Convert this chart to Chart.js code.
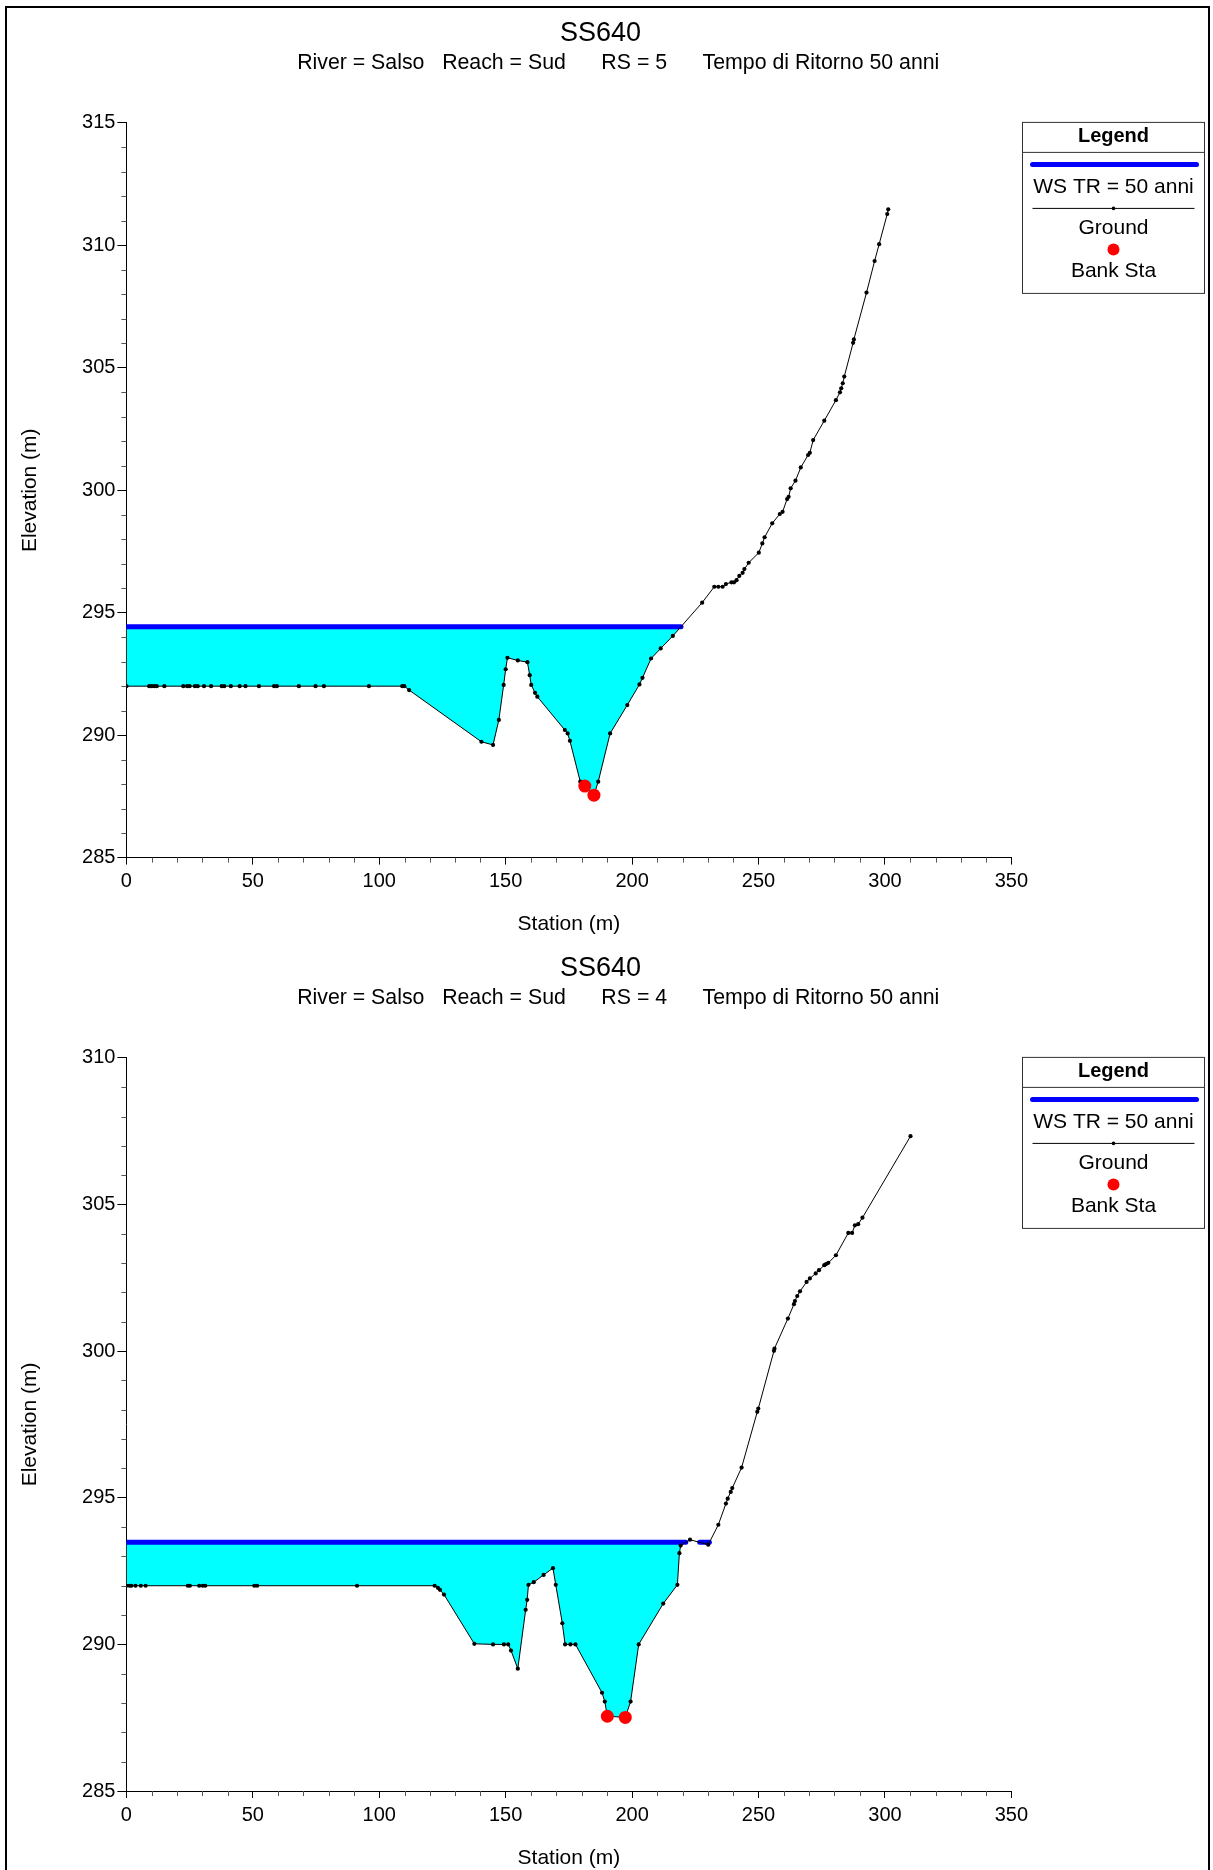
<!DOCTYPE html>
<html>
<head>
<meta charset="utf-8">
<script src="https://cdn.jsdelivr.net/npm/chart.js@4.4.1/dist/chart.umd.min.js"></script>
<style>
html,body{margin:0;padding:0;background:#fff;width:1213px;height:1870px;overflow:hidden;}
#frame{position:absolute;left:5px;top:6px;width:1205px;height:1920px;border:2px solid #000;box-sizing:border-box;}
canvas{position:absolute;left:0;}
#c1{top:0;}
#c2{top:935px;}
</style>
</head>
<body>
<div id="frame"></div>
<canvas id="c1" width="1213" height="940"></canvas>
<canvas id="c2" width="1213" height="940"></canvas>
<script>
// ---------------- DATA ----------------
const titleText = 'SS640';
const subtitle5 = '      River = Salso   Reach = Sud      RS = 5      Tempo di Ritorno 50 anni';
const subtitle4 = '      River = Salso   Reach = Sud      RS = 4      Tempo di Ritorno 50 anni';
const xAxisTitle = 'Station (m)';
const yAxisTitle = 'Elevation (m)';
const legendTitle = 'Legend';
const wsLabel = 'WS TR = 50 anni';
const groundLabel = 'Ground';
const bankLabel = 'Bank Sta';

const xTicks = [0, 50, 100, 150, 200, 250, 300, 350];
const yTicks5 = [285, 290, 295, 300, 305, 310, 315];
const yTicks4 = [285, 290, 295, 300, 305, 310];

// RS = 5
const station5 = [0, 9, 10, 11, 12, 15, 22.5, 24, 25, 27.1, 28.2, 30.7, 33.5, 37.7, 38.7, 41.3, 44.8, 47.1, 52.4, 58.4, 59.5, 68.2, 74.8, 78.1, 95.9, 109.1, 109.9,
  111.8, 140.4, 145.0, 147.3, 149.2, 150.0, 150.7, 154.8, 158.6, 159.5, 160.1, 161.6, 162.5, 173.4, 174.5, 175.4, 179.5, 181.3, 184.9, 186.6,
  191.3, 198.1, 202.9, 204.1, 207.5, 211.3, 216.1, 227.7, 232.5, 234.1, 235.8, 237.1, 239.3, 240.3, 241.3, 242.4, 243.7, 244.4, 246.1,
  250.1, 251.5, 252.4, 255.4, 258.4, 259.5, 261.3, 261.9, 262.7, 264.6, 266.7, 269.6, 270.3, 271.6, 276.0, 280.6, 282.2, 282.7, 283.3, 283.9,
  287.4, 287.7, 292.7, 295.9, 297.7, 300.9, 301.3];
const elev5 = [292, 292, 292, 292, 292, 292, 292, 292, 292, 292, 292, 292, 292, 292, 292, 292, 292, 292, 292, 292, 292, 292, 292, 292, 292, 292, 292,
  291.84, 289.73, 289.6, 290.62, 292.05, 292.69, 293.16, 293.05, 292.98, 292.45, 292.05, 291.73, 291.57, 290.21, 290.07, 289.77, 288.1, 287.92, 287.55, 288.1,
  290.07, 291.23, 292.07, 292.34, 293.13, 293.54, 294.05, 295.41, 296.06, 296.06, 296.06, 296.17, 296.24, 296.24, 296.33, 296.5, 296.63, 296.78, 297.04,
  297.45, 297.83, 298.08, 298.65, 299.03, 299.12, 299.64, 299.73, 300.08, 300.39, 300.93, 301.44, 301.53, 302.05, 302.84, 303.68, 304.0, 304.16, 304.37, 304.64,
  306.02, 306.16, 308.07, 309.36, 310.05, 311.28, 311.47];
const ws5 = 294.43;
const bankStation5 = [181.3, 184.9];
const bankElev5 = [287.92, 287.55];

// RS = 4
const station4 = [0, 1.2, 2.0, 3.6, 5.7, 7.6, 24.3, 25.1, 28.8, 30.2, 31.2, 50.6, 51.7, 91.2, 121.9,
  123.2, 124.0, 125.6, 137.6, 145.0, 149.3, 151.0, 152.1, 154.8, 157.9, 158.5, 159.0, 161.1, 165.0, 168.7, 169.8, 172.4, 173.5, 175.6, 177.6,
  188.1, 189.2, 190.2, 197.3, 199.4, 202.6, 212.3, 217.9, 218.7, 219.2, 222.9, 230.1, 234.1, 237.1, 237.8, 239.0, 239.6, 243.3,
  249.5, 249.9, 256.1, 256.3, 261.6, 264.0, 264.4, 265.3, 266.4, 269.0, 270.3, 272.6, 273.9, 276.0, 276.7, 277.6, 280.6,
  285.5, 287.0, 288.1, 289.4, 291.1, 310.1];
const elev4 = [292, 292, 292, 292, 292, 292, 292, 292, 292, 292, 292, 292, 292, 292, 292,
  291.93, 291.86, 291.70, 290.02, 290.0, 290.0, 290.0, 289.79, 289.17, 291.18, 291.52, 292.03, 292.12, 292.37, 292.6, 292.03, 290.72, 290.0, 290.0, 290.0,
  288.35, 288.05, 287.55, 287.51, 288.05, 290.0, 291.39, 292.03, 293.11, 293.37, 293.57, 293.40, 294.08, 294.8, 294.97, 295.2, 295.33, 296.03,
  297.93, 298.04, 300.01, 300.09, 301.11, 301.6, 301.71, 301.88, 302.04, 302.36, 302.48, 302.65, 302.76, 302.93, 302.97, 303.01, 303.27,
  304.03, 304.03, 304.29, 304.33, 304.55, 307.33];
const ws4 = 293.48;
const bankStation4 = [190.2, 197.3];
const bankElev4 = [287.55, 287.51];

// ---------------- HELPERS ----------------
Chart.defaults.font.family = "Arial, 'Liberation Sans', Helvetica, sans-serif";
Chart.defaults.color = '#000';

function waterPolys(xs, ys, ws) {
  const polys = [];
  let cur = null;
  const cross = (i) => xs[i - 1] + (ws - ys[i - 1]) / (ys[i] - ys[i - 1]) * (xs[i] - xs[i - 1]);
  for (let i = 0; i < xs.length; i++) {
    const below = ys[i] < ws;
    if (below && !cur) {
      cur = [];
      cur.push({x: i === 0 ? xs[0] : cross(i), y: ws});
    }
    if (below) cur.push({x: xs[i], y: ys[i]});
    if (!below && cur) {
      cur.push({x: cross(i), y: ws});
      polys.push(cur);
      cur = null;
    }
  }
  if (cur) { cur.push({x: xs[xs.length - 1], y: ws}); polys.push(cur); }
  return polys;
}

const minorTicks = {
  id: 'minorTicks',
  afterDraw(chart) {
    const ctx = chart.ctx;
    const xs = chart.scales.x, ys = chart.scales.y;
    const a = chart.chartArea;
    ctx.save();
    ctx.strokeStyle = '#555';
    ctx.lineWidth = 1;
    ctx.beginPath();
    for (let v = xs.min; v <= xs.max; v += 10) {
      if (v % 50 === 0) continue;
      const px = Math.round(xs.getPixelForValue(v)) + 0.5;
      ctx.moveTo(px, a.bottom); ctx.lineTo(px, a.bottom + 5);
    }
    for (let v = ys.min; v <= ys.max; v += 1) {
      if (v % 5 === 0) continue;
      const py = Math.round(ys.getPixelForValue(v)) + 0.5;
      ctx.moveTo(a.left - 5, py); ctx.lineTo(a.left, py);
    }
    ctx.stroke();
    ctx.restore();
  }
};

const hecLegend = {
  id: 'hecLegend',
  afterDraw(chart) {
    const ctx = chart.ctx;
    const top = chart.chartArea.top - 0.5;
    const left = 1022.5, right = 1204.5, w = right - left, cx = (left + right) / 2;
    const dsWS = chart.data.datasets.find(d => d.role === 'ws');
    const dsG = chart.data.datasets.find(d => d.role === 'ground');
    const dsB = chart.data.datasets.find(d => d.role === 'bank');
    ctx.save();
    ctx.fillStyle = '#fff';
    ctx.fillRect(left, top, w, 171);
    ctx.strokeStyle = '#333';
    ctx.lineWidth = 1;
    ctx.strokeRect(left, top, w, 171);
    ctx.beginPath(); ctx.moveTo(left, top + 30); ctx.lineTo(right, top + 30); ctx.stroke();
    ctx.fillStyle = '#000';
    ctx.textAlign = 'center';
    ctx.textBaseline = 'middle';
    ctx.font = "bold 20px Arial, 'Liberation Sans', sans-serif";
    ctx.fillText(legendTitle, cx, top + 14);
    // WS
    ctx.strokeStyle = dsWS.borderColor; ctx.lineWidth = 5; ctx.lineCap = 'round';
    ctx.beginPath(); ctx.moveTo(left + 10, top + 42); ctx.lineTo(right - 8, top + 42); ctx.stroke();
    ctx.font = "21px Arial, 'Liberation Sans', sans-serif";
    ctx.fillText(dsWS.label, cx, top + 65);
    // Ground
    ctx.strokeStyle = '#000'; ctx.lineWidth = 1; ctx.lineCap = 'butt';
    ctx.beginPath(); ctx.moveTo(left + 10, top + 86); ctx.lineTo(right - 10, top + 86); ctx.stroke();
    ctx.beginPath(); ctx.arc(cx, top + 86, 1.8, 0, Math.PI * 2); ctx.fill();
    ctx.fillText(dsG.label, cx, top + 106);
    // Bank
    ctx.fillStyle = dsB.backgroundColor;
    ctx.beginPath(); ctx.arc(cx, top + 127, 6, 0, Math.PI * 2); ctx.fill();
    ctx.fillStyle = '#000';
    ctx.fillText(dsB.label, cx, top + 149);
    ctx.restore();
  }
};

function build(canvasId, o) {
  const polys = waterPolys(o.stations, o.elevs, o.ws);
  const wsData = [];
  polys.forEach((p, i) => {
    if (i > 0) wsData.push({x: (p[0].x + wsData[wsData.length - 1].x) / 2, y: null});
    wsData.push({x: p[0].x, y: o.ws});
    wsData.push({x: p[p.length - 1].x, y: o.ws});
  });
  const datasets = [];
  datasets.push({
    role: 'bank', label: bankLabel, type: 'line', showLine: false,
    data: o.bankX.map((x, i) => ({x, y: o.bankY[i]})),
    pointRadius: 6.5, pointBackgroundColor: '#ff0000', backgroundColor: '#ff0000', pointBorderWidth: 0, borderColor: '#ff0000', order: 0
  });
  datasets.push({
    role: 'ground', label: groundLabel, type: 'line',
    data: o.stations.map((x, i) => ({x, y: o.elevs[i]})),
    borderColor: '#000', borderWidth: 1, pointRadius: 2.1, pointBackgroundColor: '#000', pointBorderWidth: 0,
    tension: 0, fill: false, order: 1
  });
  datasets.push({
    role: 'ws', label: wsLabel, type: 'line', data: wsData,
    borderColor: '#0000ff', borderWidth: 5, borderCapStyle: 'round', pointRadius: 0, spanGaps: false, fill: false, order: 2
  });
  polys.forEach((p) => {
    datasets.push({
      role: 'water', label: 'water', type: 'line', data: p,
      borderWidth: 0, borderColor: 'rgba(0,0,0,0)', pointRadius: 0,
      backgroundColor: '#00ffff', fill: {value: o.ws}, order: 3
    });
  });
  const canvasH = 940;
  const xAxisH = 79.4;
  return new Chart(document.getElementById(canvasId), {
    type: 'line',
    data: {datasets},
    options: {
      responsive: false, animation: false, devicePixelRatio: 1,
      layout: {padding: {left: 0, right: 12, top: 0, bottom: canvasH - o.chartBottom - xAxisH}},
      plugins: {
        legend: {display: false},
        tooltip: {enabled: false},
        title: {display: true, text: titleText, color: '#000', font: {size: 27, weight: 'normal'}, padding: {top: 17, bottom: 0}},
        subtitle: {display: true, text: o.subtitle, color: '#000', font: {size: 21.3, weight: 'normal'}, padding: {top: 0.6, bottom: o.chartTop - 49.4 - 0.6 - 25.56}}
      },
      scales: {
        x: {
          type: 'linear', position: 'bottom', min: 0, max: 350,
          afterFit: (s) => { s.height = xAxisH; },
          afterBuildTicks: (s) => { s.ticks = xTicks.map(v => ({value: v})); },
          ticks: {color: '#000', font: {size: 20}, padding: 5, maxRotation: 0, autoSkip: false},
          grid: {display: true, drawOnChartArea: false, drawTicks: true, tickLength: 7, tickColor: '#000', tickWidth: 1},
          border: {display: true, color: '#000', width: 1},
          title: {display: true, text: xAxisTitle, color: '#000', font: {size: 21}, padding: {top: 0, bottom: 0}}
        },
        y: {
          type: 'linear', position: 'left', min: o.yTicks[0], max: o.yTicks[o.yTicks.length - 1],
          afterFit: (s) => { s.width = 126.4; },
          afterBuildTicks: (s) => { s.ticks = o.yTicks.map(v => ({value: v})); },
          ticks: {color: '#000', font: {size: 20}, padding: 2, autoSkip: false},
          grid: {display: true, drawOnChartArea: false, drawTicks: true, tickLength: 9, tickColor: '#000', tickWidth: 1},
          border: {display: true, color: '#000', width: 1},
          title: {display: true, text: yAxisTitle, color: '#000', font: {size: 21}, padding: {top: 17.4, bottom: 0}}
        },
        yR: {
          type: 'linear', position: 'right', display: true,
          afterFit: (s) => { s.width = 1213 - 12 - 1011.4; },
          ticks: {display: false}, grid: {display: false}, border: {display: false}
        }
      }
    },
    plugins: [minorTicks, hecLegend]
  });
}

build('c1', {stations: station5, elevs: elev5, ws: ws5, bankX: bankStation5, bankY: bankElev5,
  subtitle: subtitle5, yTicks: yTicks5, chartTop: 122.9, chartBottom: 857.6});
build('c2', {stations: station4, elevs: elev4, ws: ws4, bankX: bankStation4, bankY: bankElev4,
  subtitle: subtitle4, yTicks: yTicks4, chartTop: 122.9, chartBottom: 856});
</script>
</body>
</html>
